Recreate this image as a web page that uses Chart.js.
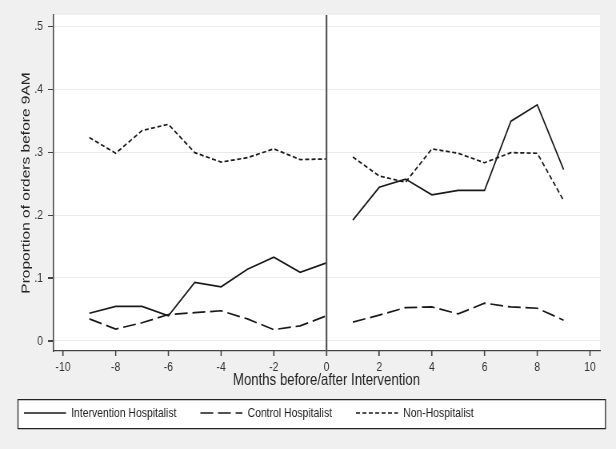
<!DOCTYPE html>
<html><head><meta charset="utf-8">
<script src="https://cdn.jsdelivr.net/npm/chart.js@4"></script>
<style>
html,body{margin:0;padding:0;background:#f0f0f0;overflow:hidden}
#wrap{width:616px;height:449px;overflow:hidden;position:relative}
#c{display:block;transform:scaleX(0.8);transform-origin:0 0}
</style>
</head><body><div id="wrap"><canvas id="c" width="770" height="449" style="width:770px;height:449px"></canvas></div>
<script>
const monthsPre=[-9,-8,-7,-6,-5,-4,-3,-2,-1,0];
const monthsPost=[1,2,3,4,5,6,7,8,9];
const interventionPre=[.044,.055,.055,.040,.093,.086,.114,.133,.109,.124];
const interventionPost=[.192,.244,.257,.232,.239,.239,.349,.375,.272];
const controlPre=[.035,.019,.029,.042,.045,.048,.035,.018,.024,.040];
const controlPost=[.030,.041,.053,.054,.043,.060,.054,.052,.033];
const nonHospPre=[.323,.298,.334,.344,.299,.284,.291,.305,.288,.289];
const nonHospPost=[.292,.262,.252,.305,.298,.283,.299,.298,.223];
const xTicks=[-10,-8,-6,-4,-2,0,2,4,6,8,10];
const yTicks=[0,.1,.2,.3,.4,.5];
const seriesNames=['Intervention Hospitalist','Control Hospitalist','Non-Hospitalist'];
const interventionMonth=0;

const SX=0.8; // horizontal compression applied by CSS
const X_MIN=-10.38, X_MAX=10.38, Y_MIN=-0.0159, Y_MAX=0.5175;
const sans="'Liberation Sans',Arial,sans-serif";
const LEG_PAD=30;

function build(pre, post){
  const d=monthsPre.map((m,i)=>({x:m,y:pre[i]}));
  d.push({x:(monthsPre[monthsPre.length-1]+monthsPost[0])/2,y:null});
  monthsPost.forEach((m,i)=>d.push({x:m,y:post[i]}));
  return d;
}

const bgPlugin={
  id:'bg',
  beforeDraw(chart){
    const {ctx,chartArea:a}=chart;
    ctx.save();
    ctx.fillStyle='#f0f0f0';
    ctx.fillRect(0,0,chart.width,chart.height);
    ctx.fillStyle='#ffffff';
    ctx.fillRect(a.left,a.top,a.right-a.left,a.bottom-a.top);
    const lg=chart.legend;
    const cy=lg.top+LEG_PAD+6.5;
    const top=Math.round(cy-14.5)+0.5;
    const x0=18/SX, x1=605.5/SX;
    ctx.fillStyle='#ffffff';
    ctx.fillRect(x0,top,x1-x0,29);
    ctx.strokeStyle='#222';
    ctx.lineWidth=1.25;
    ctx.beginPath();
    ctx.moveTo(x0,top);ctx.lineTo(x1,top);ctx.lineTo(x1,top+29);ctx.lineTo(x0,top+29);ctx.closePath();
    ctx.stroke();
    ctx.restore();
  },
  afterDraw(chart){
    // outward tick marks at the scales' tick positions
    const {ctx,chartArea:a,scales}=chart;
    ctx.save();
    ctx.strokeStyle='#444';
    ctx.lineWidth=1.3;
    ctx.beginPath();
    scales.x.ticks.forEach(t=>{const px=scales.x.getPixelForValue(t.value);ctx.moveTo(px,a.bottom);ctx.lineTo(px,a.bottom+5);});
    ctx.stroke();
    ctx.lineWidth=1;
    ctx.beginPath();
    scales.y.ticks.forEach(t=>{const py=Math.round(scales.y.getPixelForValue(t.value))+0.5;ctx.moveTo(a.left,py);ctx.lineTo(a.left-5/SX,py);});
    ctx.stroke();
    ctx.restore();
  }
};

const lineCommon={borderColor:'#1a1a1a',borderWidth:1.7,pointRadius:0,pointStyle:'line',tension:0,fill:false,spanGaps:false};

new Chart(document.getElementById('c'),{
  type:'line',
  data:{datasets:[
    {label:'ref',data:[{x:interventionMonth,y:Y_MIN},{x:interventionMonth,y:Y_MAX}],borderColor:'#555',borderWidth:2.2,pointRadius:0},
    Object.assign({label:seriesNames[0],data:build(interventionPre,interventionPost),borderDash:[]},lineCommon),
    Object.assign({label:seriesNames[1],data:build(controlPre,controlPost),borderDash:[16,6]},lineCommon),
    Object.assign({label:seriesNames[2],data:build(nonHospPre,nonHospPost),borderDash:[5,3]},lineCommon)
  ]},
  options:{
    responsive:false,animation:false,devicePixelRatio:1,
    layout:{padding:{top:15,right:16/SX,bottom:19.5,left:0}},
    plugins:{
      tooltip:{enabled:false},
      legend:{position:'bottom',align:'start',
        labels:{usePointStyle:true,pointStyle:'line',pointStyleWidth:42/SX,boxHeight:13,padding:LEG_PAD,
          font:{family:sans,size:13},color:'#222',
          filter:(it)=>it.datasetIndex>0,
          generateLabels(chart){
            const items=Chart.defaults.plugins.legend.labels.generateLabels(chart);
            items.forEach(it=>{
              const ds=chart.data.datasets[it.datasetIndex];
              it.lineDash=ds.borderDash||[];
              it.lineWidth=1.5;
              it.strokeStyle=ds.borderColor;
            });
            return items;
          }}}
    },
    scales:{
      x:{type:'linear',min:X_MIN,max:X_MAX,
        afterBuildTicks:s=>{s.ticks=xTicks.map(v=>({value:v}));},
        afterFit:s=>{s.height=55.5-LEG_PAD;},
        grid:{drawOnChartArea:false,drawTicks:true,tickLength:5,tickColor:'#444',tickWidth:1.25},
        border:{color:'#444',width:1.2},
        ticks:{font:{family:sans,size:13},color:'#333',padding:4,maxRotation:0,autoSkip:false,callback:v=>String(v)},
        title:{display:true,text:'Months before/after Intervention',font:{family:sans,size:16.5},color:'#222',padding:{top:0,bottom:15.9-LEG_PAD}}
      },
      y:{type:'linear',min:Y_MIN,max:Y_MAX,
        afterBuildTicks:s=>{s.ticks=yTicks.map(v=>({value:v}));},
        afterFit:s=>{s.width=53/SX;},
        grid:{color:'#ebebeb',drawTicks:true,tickColor:'#444',tickLength:5/SX,tickWidth:1},
        border:{color:'#444',width:1.5},
        ticks:{font:{family:sans,size:13},color:'#333',padding:5/SX,callback:v=>v===0?'0':'.'+Math.round(v*10)},
        title:{display:true,text:'Proportion of orders before 9AM',font:{family:sans,size:15.5},color:'#222',padding:{top:26/SX-9.3,bottom:0}}
      }
    }
  },
  plugins:[bgPlugin]
});
</script></body></html>
